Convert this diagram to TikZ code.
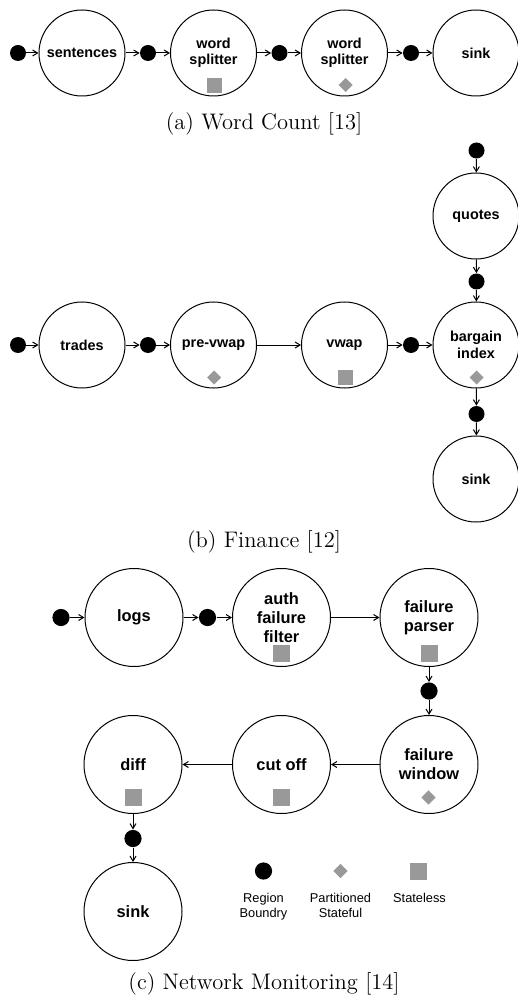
\documentclass[tikz,border=0pt]{standalone}
\usepackage{fontspec}
\newfontfamily\labfont{Liberation Sans}
\usetikzlibrary{arrows.meta}
\begin{document}
\begin{tikzpicture}[x=0.5pt,y=-0.5pt,
  op/.style={circle,draw,line width=0.5pt,minimum size=43pt,inner sep=0pt,align=center,font=\labfont\bfseries\fontsize{7.2}{8.2}\selectfont},
  opc/.style={op,minimum size=49pt,font=\labfont\bfseries\fontsize{8.2}{9.6}\selectfont},
  rb/.style={circle,fill=black,minimum size=8pt,inner sep=0pt},
  rbc/.style={rb,minimum size=8.6pt},
  sq/.style={rectangle,fill=black!40,minimum size=7.5pt,inner sep=0pt},
  sqc/.style={sq,minimum size=8.5pt},
  dm/.style={rectangle,rotate=45,fill=black!40,minimum size=4.95pt,inner sep=0pt},
  dmc/.style={dm,minimum size=5.1pt},
  ar/.style={-{Straight Barb[length=2.5pt,width=3pt]},line width=0.5pt},
  captext/.style={font=\fontsize{11.25}{13}\selectfont},
  leg/.style={align=center,font=\labfont\fontsize{6.4}{7.5}\selectfont}
]
\useasboundingbox (0,0) rectangle (518,1005);
% ---------- (a) Word Count
\node[rb] (a0) at (18,53) {};
\node[op] (a1) at (82,53) {sentences};
\node[rb] (a2) at (148,53) {};
\node[op] (a3) at (213.5,53) {word\\splitter};
\node[rb] (a4) at (279.5,53) {};
\node[op] (a5) at (344.5,53) {word\\splitter};
\node[rb] (a6) at (411,53) {};
\node[op] (a7) at (476,53) {sink};
\node[sq] (a3s) at (214.5,85.5) {};
\node[dm] (a5d) at (345.5,85) {};
\draw[ar] (a0) -- (a1);
\draw[ar] (a1) -- (a2);
\draw[ar] (a2) -- (a3);
\draw[ar] (a3) -- (a4);
\draw[ar] (a4) -- (a5);
\draw[ar] (a5) -- (a6);
\draw[ar] (a6) -- (a7);
\node[captext] (capa) at (264,124) {(a) Word Count [13]};
% ---------- (b) Finance
\node[rb] (q0) at (476.5,150.5) {};
\node[op] (q1) at (476,216) {quotes};
\node[rb] (q2) at (476.5,281.5) {};
\node[rb] (b0) at (18,345) {};
\node[op] (b1) at (82,345) {trades};
\node[rb] (b2) at (148,345) {};
\node[op] (b3) at (213.5,345) {pre-vwap};
\node[op] (b4) at (344.5,345) {vwap};
\node[rb] (b5) at (411,345) {};
\node[op] (b6) at (476,345) {bargain\\index};
\node[rb] (b7) at (476.5,414) {};
\node[op] (b8) at (476,479) {sink};
\node[dm] (b3d) at (214,377.5) {};
\node[sq] (b4s) at (345.5,377.5) {};
\node[dm] (b6d) at (476.5,377.5) {};
\draw[ar] (q0) -- (q1);
\draw[ar] (q1) -- (q2);
\draw[ar] (q2) -- (b6);
\draw[ar] (b0) -- (b1);
\draw[ar] (b1) -- (b2);
\draw[ar] (b2) -- (b3);
\draw[ar] (b3) -- (b4);
\draw[ar] (b4) -- (b5);
\draw[ar] (b5) -- (b6);
\draw[ar] (b6) -- (b7);
\draw[ar] (b7) -- (b8);
\node[captext] (capb) at (264,542) {(b) Finance [12]};
% ---------- (c) Network Monitoring
\node[rbc] (c0) at (61,617.5) {};
\node[opc] (c1) at (134,617.5) {logs};
\node[rbc] (c2) at (207.5,617.5) {};
\node[opc] (c3) at (281.5,617.5) {auth\\failure\\filter};
\node[opc] (c4) at (429,617.5) {failure\\parser};
\node[rbc] (c5) at (429,691) {};
\node[opc] (c6) at (429,764.5) {failure\\window};
\node[opc] (c7) at (281.5,764.5) {cut off};
\node[opc] (c8) at (133,764.5) {diff};
\node[rbc] (c9) at (133,838.5) {};
\node[opc] (c10) at (133,911.5) {sink};
\node[sqc] (c3s) at (281.5,653.5) {};
\node[sqc] (c4s) at (429,653.5) {};
\node[dmc] (c6d) at (428.5,797.5) {};
\node[sqc] (c7s) at (281,797.5) {};
\node[sqc] (c8s) at (133,797.5) {};
\draw[ar] (c0) -- (c1);
\draw[ar] (c1) -- (c2);
\draw[ar] (c2) -- (c3);
\draw[ar] (c3) -- (c4);
\draw[ar] (c4) -- (c5);
\draw[ar] (c5) -- (c6);
\draw[ar] (c6) -- (c7);
\draw[ar] (c7) -- (c8);
\draw[ar] (c8) -- (c9);
\draw[ar] (c9) -- (c10);
% legend
\node[rbc] (l1) at (263.5,871) {};
\node[dmc] (l2) at (340.5,871) {};
\node[sqc] (l3) at (418.5,871) {};
\node[leg,anchor=north] (l1t) at (263.5,886) {Region\\Boundry};
\node[leg,anchor=north] (l2t) at (340.5,886) {Partitioned\\Stateful};
\node[leg,anchor=north] (l3t) at (419.5,886) {Stateless};
\node[captext] (capc) at (264,984) {(c) Network Monitoring [14]};
\end{tikzpicture}
\end{document}
